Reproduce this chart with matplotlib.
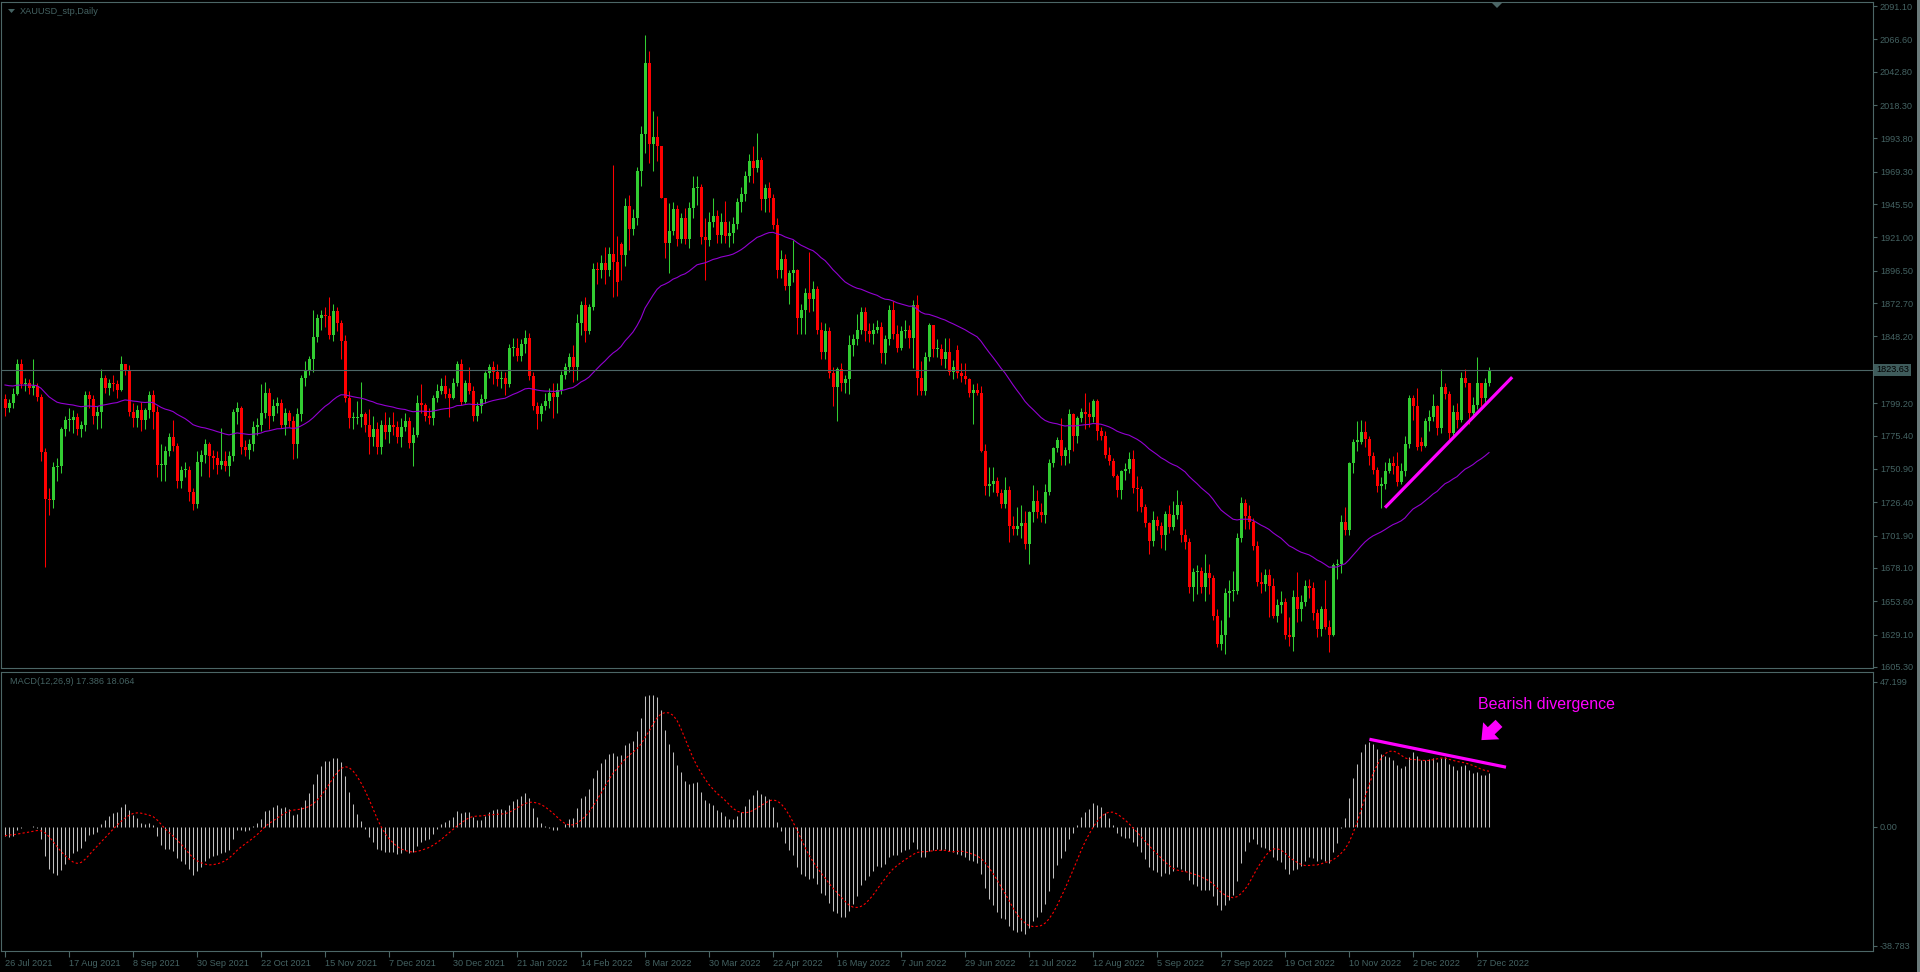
import numpy as np
import pandas as pd
import matplotlib
matplotlib.use('Agg')
import matplotlib.pyplot as plt
import matplotlib.patches as mpatches
from matplotlib import font_manager

# ---------------------------------------------------------------------------
# Data: XAUUSD daily, 26 Jul 2021 .. 30 Dec 2022 (one row = 16 bars)
# ---------------------------------------------------------------------------
first_open = 1802
gap_opens = {154: 1916, 238: 1838, 354: 1771}

closes = [
    1796, 1799, 1806, 1828, 1813, 1814, 1810, 1812, 1804, 1763, 1729, 1728, 1752, 1753, 1780, 1787,
    1787, 1789, 1780, 1783, 1805, 1802, 1790, 1793, 1818, 1810, 1814, 1813, 1809, 1828, 1823, 1793,
    1788, 1794, 1787, 1794, 1805, 1793, 1754, 1754, 1764, 1774, 1768, 1742, 1750, 1750, 1734, 1725,
    1756, 1761, 1769, 1760, 1759, 1754, 1757, 1753, 1760, 1793, 1796, 1767, 1765, 1769, 1782, 1783,
    1792, 1807, 1790, 1797, 1799, 1783, 1792, 1786, 1769, 1791, 1818, 1823, 1832, 1848, 1862, 1864,
    1863, 1849, 1867, 1858, 1845, 1803, 1788, 1788, 1789, 1791, 1783, 1774, 1780, 1767, 1783, 1778,
    1783, 1782, 1774, 1782, 1786, 1770, 1776, 1799, 1798, 1790, 1788, 1803, 1808, 1812, 1806, 1803,
    1814, 1828, 1800, 1814, 1808, 1790, 1797, 1802, 1821, 1826, 1822, 1817, 1818, 1813, 1840, 1840,
    1834, 1843, 1847, 1819, 1797, 1791, 1797, 1801, 1807, 1804, 1809, 1820, 1826, 1833, 1826, 1858,
    1871, 1852, 1870, 1898, 1897, 1902, 1897, 1909, 1903, 1888, 1908, 1944, 1927, 1935, 1970, 1997,
    2049, 1990, 1995, 1988, 1950, 1917, 1926, 1942, 1920, 1935, 1920, 1943, 1957, 1958, 1921, 1919,
    1932, 1937, 1923, 1932, 1922, 1924, 1931, 1947, 1953, 1966, 1977, 1972, 1978, 1949, 1957, 1950,
    1930, 1897, 1905, 1885, 1895, 1897, 1862, 1868, 1880, 1876, 1883, 1853, 1837, 1852, 1821, 1811,
    1824, 1814, 1817, 1842, 1846, 1853, 1866, 1852, 1850, 1853, 1855, 1836, 1846, 1868, 1850, 1840,
    1852, 1853, 1847, 1871, 1818, 1808, 1833, 1857, 1839, 1839, 1832, 1837, 1822, 1826, 1821, 1819,
    1817, 1807, 1809, 1807, 1764, 1738, 1740, 1742, 1733, 1725, 1735, 1709, 1707, 1709, 1711, 1696,
    1719, 1727, 1719, 1717, 1734, 1755, 1766, 1772, 1760, 1765, 1791, 1775, 1788, 1793, 1791, 1789,
    1801, 1779, 1775, 1761, 1757, 1746, 1735, 1749, 1751, 1758, 1737, 1736, 1723, 1711, 1698, 1713,
    1709, 1702, 1718, 1708, 1717, 1724, 1702, 1697, 1664, 1675, 1676, 1664, 1674, 1671, 1643, 1622,
    1629, 1660, 1661, 1661, 1700, 1726, 1716, 1712, 1694, 1668, 1666, 1673, 1665, 1643, 1651, 1653,
    1629, 1627, 1657, 1648, 1653, 1665, 1663, 1645, 1633, 1648, 1635, 1629, 1680, 1681, 1712, 1706,
    1755, 1771, 1771, 1778, 1773, 1760, 1750, 1738, 1740, 1749, 1755, 1753, 1741, 1749, 1769, 1803,
    1797, 1767, 1768, 1786, 1789, 1797, 1781, 1811, 1806, 1777, 1793, 1787, 1818, 1814, 1792, 1798,
    1814, 1803, 1814, 1823.63,
]

highs = [
    1806, 1802, 1810, 1832, 1832, 1818, 1817, 1832, 1814, 1806, 1766, 1737, 1756, 1759, 1782, 1790,
    1796, 1794, 1792, 1786, 1808, 1808, 1805, 1797, 1824, 1820, 1817, 1820, 1816, 1834, 1828, 1827,
    1799, 1798, 1800, 1796, 1808, 1809, 1797, 1769, 1768, 1777, 1787, 1770, 1753, 1756, 1753, 1737,
    1764, 1765, 1773, 1771, 1765, 1764, 1781, 1764, 1764, 1795, 1800, 1797, 1772, 1773, 1786, 1788,
    1813, 1815, 1810, 1802, 1804, 1802, 1796, 1794, 1790, 1796, 1820, 1830, 1834, 1868, 1865, 1868,
    1870, 1877, 1872, 1870, 1860, 1849, 1808, 1793, 1801, 1815, 1793, 1795, 1790, 1785, 1787, 1793,
    1789, 1793, 1786, 1788, 1792, 1789, 1782, 1805, 1813, 1799, 1796, 1805, 1813, 1818, 1820, 1810,
    1818, 1830, 1832, 1816, 1826, 1812, 1800, 1806, 1823, 1828, 1830, 1828, 1823, 1822, 1843, 1847,
    1847, 1846, 1853, 1851, 1822, 1800, 1799, 1807, 1810, 1814, 1814, 1823, 1829, 1836, 1842, 1865,
    1874, 1877, 1872, 1902, 1903, 1908, 1914, 1914, 1974, 1922, 1918, 1950, 1952, 1942, 1973, 2003,
    2070, 2058, 2014, 2010, 1988, 1950, 1946, 1947, 1945, 1939, 1943, 1947, 1966, 1966, 1960, 1935,
    1940, 1950, 1941, 1939, 1948, 1933, 1936, 1950, 1958, 1970, 1982, 1988, 1998, 1980, 1960, 1962,
    1953, 1935, 1912, 1909, 1897, 1919, 1898, 1872, 1884, 1910, 1889, 1885, 1859, 1858, 1855, 1826,
    1826, 1829, 1820, 1849, 1850, 1865, 1870, 1870, 1858, 1858, 1860, 1859, 1849, 1871, 1874, 1857,
    1856, 1860, 1857, 1875, 1879, 1830, 1837, 1858, 1857, 1846, 1843, 1847, 1847, 1831, 1842, 1829,
    1829, 1818, 1813, 1814, 1812, 1769, 1752, 1752, 1745, 1736, 1745, 1738, 1716, 1723, 1724, 1720,
    1720, 1739, 1735, 1726, 1740, 1758, 1767, 1774, 1788, 1767, 1795, 1792, 1790, 1796, 1807, 1800,
    1802, 1802, 1782, 1779, 1767, 1759, 1747, 1750, 1755, 1763, 1765, 1746, 1738, 1725, 1712, 1720,
    1716, 1712, 1720, 1724, 1727, 1735, 1727, 1707, 1700, 1678, 1680, 1679, 1688, 1681, 1673, 1648,
    1640, 1663, 1669, 1676, 1704, 1730, 1729, 1724, 1715, 1698, 1675, 1677, 1677, 1671, 1655, 1661,
    1656, 1642, 1662, 1675, 1658, 1669, 1670, 1668, 1648, 1650, 1669, 1640, 1682, 1685, 1717, 1723,
    1756, 1773, 1786, 1787, 1786, 1775, 1763, 1752, 1745, 1756, 1759, 1760, 1763, 1755, 1775, 1805,
    1805, 1810, 1774, 1788, 1794, 1806, 1798, 1824, 1814, 1808, 1798, 1799, 1822, 1824, 1813, 1804,
    1833, 1814, 1818, 1826,
]

lows = [
    1790, 1793, 1796, 1805, 1810, 1808, 1806, 1805, 1801, 1757, 1679, 1717, 1722, 1742, 1748, 1775,
    1779, 1777, 1776, 1774, 1779, 1796, 1784, 1780, 1781, 1807, 1805, 1808, 1803, 1808, 1820, 1790,
    1782, 1782, 1779, 1780, 1788, 1780, 1745, 1742, 1742, 1760, 1764, 1737, 1737, 1745, 1727, 1721,
    1722, 1746, 1755, 1745, 1751, 1747, 1751, 1749, 1746, 1757, 1784, 1762, 1760, 1758, 1764, 1776,
    1779, 1788, 1780, 1786, 1792, 1781, 1776, 1782, 1758, 1759, 1786, 1812, 1820, 1822, 1844, 1853,
    1855, 1846, 1845, 1852, 1832, 1800, 1781, 1780, 1784, 1782, 1778, 1762, 1768, 1762, 1762, 1773,
    1770, 1776, 1770, 1767, 1779, 1766, 1753, 1774, 1792, 1786, 1784, 1783, 1800, 1806, 1803, 1789,
    1802, 1812, 1798, 1799, 1806, 1786, 1786, 1792, 1799, 1818, 1813, 1812, 1810, 1805, 1811, 1834,
    1830, 1830, 1836, 1816, 1794, 1780, 1786, 1794, 1796, 1788, 1792, 1806, 1817, 1822, 1815, 1816,
    1849, 1844, 1850, 1868, 1887, 1891, 1887, 1893, 1877, 1878, 1890, 1900, 1912, 1923, 1930, 1959,
    1983, 1976, 1970, 1977, 1950, 1906, 1895, 1923, 1915, 1917, 1916, 1913, 1935, 1945, 1916, 1890,
    1915, 1929, 1917, 1917, 1917, 1914, 1917, 1927, 1940, 1948, 1962, 1961, 1969, 1941, 1940, 1940,
    1927, 1891, 1891, 1882, 1872, 1888, 1850, 1850, 1850, 1866, 1867, 1850, 1832, 1832, 1818, 1797,
    1786, 1808, 1807, 1806, 1834, 1842, 1850, 1845, 1844, 1843, 1851, 1829, 1828, 1842, 1846, 1837,
    1838, 1847, 1840, 1825, 1805, 1805, 1805, 1830, 1833, 1833, 1827, 1825, 1820, 1817, 1818, 1815,
    1813, 1804, 1784, 1805, 1763, 1732, 1731, 1734, 1731, 1722, 1722, 1697, 1702, 1702, 1700, 1692,
    1681, 1712, 1715, 1712, 1711, 1732, 1752, 1763, 1754, 1754, 1755, 1764, 1770, 1785, 1780, 1782,
    1785, 1772, 1772, 1759, 1754, 1745, 1730, 1729, 1743, 1748, 1733, 1720, 1719, 1708, 1688, 1694,
    1706, 1693, 1691, 1704, 1706, 1714, 1697, 1692, 1660, 1654, 1659, 1660, 1654, 1659, 1640, 1620,
    1618, 1615, 1642, 1654, 1659, 1697, 1707, 1707, 1691, 1665, 1660, 1661, 1642, 1641, 1638, 1645,
    1626, 1621, 1617, 1638, 1639, 1650, 1656, 1640, 1627, 1628, 1633, 1616, 1628, 1670, 1674, 1702,
    1702, 1748, 1764, 1769, 1767, 1754, 1747, 1734, 1722, 1736, 1748, 1747, 1738, 1740, 1746, 1766,
    1787, 1765, 1764, 1767, 1779, 1786, 1776, 1777, 1802, 1773, 1774, 1781, 1785, 1811, 1784, 1789,
    1795, 1797, 1800, 1812,
]

# closes before the first visible bar (30 Apr .. 23 Jul 2021), used to seed the EMA / MACD
pre_closes = [
    1769, 1792, 1779, 1785, 1815, 1831, 1836, 1837, 1815, 1826,
    1843, 1867, 1868, 1869, 1877, 1881, 1881, 1898, 1897, 1895,
    1903, 1906, 1903, 1908, 1871, 1891, 1899, 1893, 1888, 1899,
    1877, 1866, 1859, 1813, 1774, 1764, 1783, 1778, 1779, 1776,
    1781, 1779, 1761, 1770, 1777, 1787, 1791, 1797, 1803, 1803,
    1808, 1806, 1808, 1824, 1828, 1812, 1813, 1810, 1804, 1806,
    1802,
]

date_labels = ['26 Jul 2021', '17 Aug 2021', '8 Sep 2021', '30 Sep 2021', '22 Oct 2021',
               '15 Nov 2021', '7 Dec 2021', '30 Dec 2021', '21 Jan 2022', '14 Feb 2022',
               '8 Mar 2022', '30 Mar 2022', '22 Apr 2022', '16 May 2022', '7 Jun 2022',
               '29 Jun 2022', '21 Jul 2022', '12 Aug 2022', '5 Sep 2022', '27 Sep 2022',
               '19 Oct 2022', '10 Nov 2022', '2 Dec 2022', '27 Dec 2022']
price_ticks = [2091.10, 2066.60, 2042.80, 2018.30, 1993.80, 1969.30, 1945.50, 1921.00,
               1896.50, 1872.70, 1848.20, 1799.20, 1775.40, 1750.90, 1726.40, 1701.90,
               1678.10, 1653.60, 1629.10, 1605.30]
macd_ticks = [47.199, 0.0, -38.783]
macd_tick_labels = ['47.199', '0.00', '-38.783']

# hand-drawn annotations (bar index, value)
price_trend = [(345.0, 1722.4), (376.8, 1818.3)]
macd_trend = [(341.1, 28.5), (375.25, 19.4)]
note_xy = (368.3, 39.7)
arrow_from, arrow_to = (374.0, 34.3), (368.6, 27.6)

# ---------------------------------------------------------------------------
# Derived series
# ---------------------------------------------------------------------------
c = np.array(closes, float)
h = np.array(highs, float)
l = np.array(lows, float)
o = np.r_[first_open, c[:-1]]
for i, v in gap_opens.items():
    o[i] = v
h = np.maximum(h, np.maximum(o, c))
l = np.minimum(l, np.minimum(o, c))
n = len(c)
x = np.arange(n)

full = pd.Series(np.r_[pre_closes, c])
k = len(pre_closes)
ma = full.ewm(span=50, adjust=False).mean().values[k:]
macd_s = full.ewm(span=12, adjust=False).mean() - full.ewm(span=26, adjust=False).mean()
signal = macd_s.rolling(9).mean().values[k:]
macd = macd_s.values[k:]

# ---------------------------------------------------------------------------
# Style
# ---------------------------------------------------------------------------
names = {f.name for f in font_manager.fontManager.ttflist}
if 'Liberation Sans Narrow' in names:
    UI_FONT, FS = 'Liberation Sans Narrow', 7.8
else:
    UI_FONT, FS = 'Liberation Sans', 6.6
plt.rcParams['font.family'] = [UI_FONT, 'DejaVu Sans']

W, H, DPI = 1920, 972, 100
LINE = '#4c6666'
TXT = '#446262'
GREEN = '#32cd32'
RED = '#ff0000'
MAGENTA = '#ff00ff'

fig = plt.figure(figsize=(W / DPI, H / DPI), dpi=DPI, facecolor='black')


def box(left, top, right, bottom):
    return [left / W, 1 - bottom / H, (right - left) / W, (bottom - top) / H]


ax = fig.add_axes(box(1, 2, 1873, 668), facecolor='black')
mx = fig.add_axes(box(1, 672, 1873, 951), facecolor='black')

for a in (ax, mx):
    a.set_xlim(-1, 467)
    for s in a.spines.values():
        s.set_color(LINE)
        s.set_linewidth(0.8)
ax.set_ylim(1604.54, 2094.04)
mx.set_ylim(-40.51, 50.42)

# --- candles ---
col = np.where(c >= o, GREEN, RED)
ax.vlines(x, l, h, colors=col, lw=0.75)
body = np.maximum(np.abs(c - o), 0.75)
ax.bar(x, body, bottom=np.minimum(o, c), width=0.75, color=col, linewidth=0)

ax.plot(x, ma, color='#9400d3', lw=0.8)
ax.axhline(c[-1], color=LINE, lw=0.8)

(px0, py0), (px1, py1) = price_trend
ax.plot([px0, px1], [py0, py1], color=MAGENTA, lw=2.3, solid_capstyle='butt')

# --- price axis ---
ax.set_xticks([])
ax.yaxis.tick_right()
ax.set_yticks(price_ticks)
ax.set_yticklabels([f'{v:.2f}' for v in price_ticks])
ax.tick_params(axis='y', direction='out', length=3, width=0.8, color=LINE,
               labelcolor=TXT, labelsize=FS, pad=2)
ax.annotate(f'{c[-1]:.2f}', xy=(1, c[-1]), xycoords=('axes fraction', 'data'),
            xytext=(3, 0), textcoords='offset pixels', ha='left', va='center',
            fontsize=FS, color='black',
            bbox=dict(boxstyle='square,pad=0.2', fc='#3f5c5c', ec='none'))

# --- MACD ---
mx.vlines(x, 0, macd, colors='#c0c0c0', lw=0.75)
mx.plot(x, signal, color=RED, lw=0.8, ls=(0, (2, 2)))
(mx0, my0), (mx1, my1) = macd_trend
mx.plot([mx0, mx1], [my0, my1], color=MAGENTA, lw=2.3, solid_capstyle='butt')
mx.text(note_xy[0], note_xy[1], 'Bearish divergence', color=MAGENTA, fontsize=11.5,
        family='Liberation Sans', ha='left', va='center')
mx.add_patch(mpatches.FancyArrowPatch(
    arrow_from, arrow_to, color=MAGENTA, mutation_scale=13, lw=0,
    arrowstyle=mpatches.ArrowStyle.Simple(head_length=0.75, head_width=1.3, tail_width=0.55)))

mx.yaxis.tick_right()
mx.set_yticks(macd_ticks)
mx.set_yticklabels(macd_tick_labels)
mx.tick_params(axis='y', direction='out', length=3, width=0.8, color=LINE,
               labelcolor=TXT, labelsize=FS, pad=2)
mx.set_xticks(np.arange(0, n, 16))
mx.set_xticklabels(date_labels, ha='left')
mx.tick_params(axis='x', direction='out', length=4, width=0.8, color=LINE,
               labelcolor=TXT, labelsize=FS, pad=2)
mx.text(0.005, 0.965, 'MACD(12,26,9) 17.386 18.064', transform=mx.transAxes,
        color=TXT, fontsize=FS, ha='left', va='center')

# --- window decorations ---
fig.text(20 / W, 1 - 11.5 / H, 'XAUUSD_stp,Daily', color=TXT, fontsize=FS,
         ha='left', va='center')
fig.add_artist(mpatches.Polygon([(8 / W, 1 - 9 / H), (15 / W, 1 - 9 / H), (11.5 / W, 1 - 13 / H)],
                                closed=True, fc=TXT, ec='none', transform=fig.transFigure))
fig.add_artist(mpatches.Polygon([(1492 / W, 1 - 3 / H), (1502 / W, 1 - 3 / H), (1497 / W, 1 - 8 / H)],
                                closed=True, fc=LINE, ec='none', transform=fig.transFigure))
fig.add_artist(mpatches.Rectangle((1917 / W, 0), 3 / W, 1, fc='#6a7a7a', ec='none',
                                  transform=fig.transFigure))

fig.savefig('out.png', dpi=DPI, facecolor='black')
